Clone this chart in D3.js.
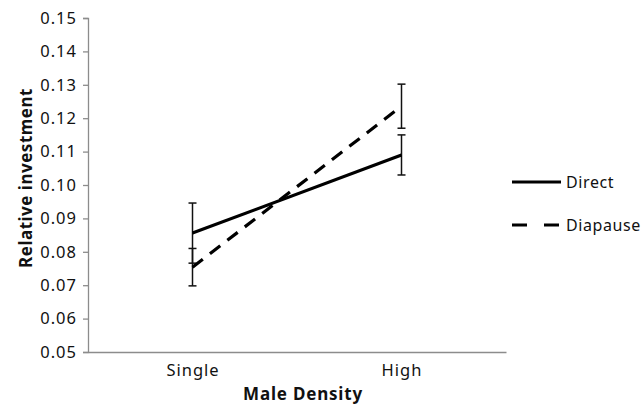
<!DOCTYPE html>
<html>
<head>
<meta charset="utf-8">
<script src="https://cdn.jsdelivr.net/npm/d3@7"></script>
<style>
  body { margin: 0; background: #fff; }
  text { font-family: "Noto Sans", sans-serif; fill: #111; }
</style>
</head>
<body>
<div class="canvas"></div>
<script>
// data
const categories = ['Single', 'High'];
const seriesNames = ['Direct', 'Diapause'];
const directMean = [0.0856, 0.1090];
const directErr = [0.0090, 0.0060];
const diapauseMean = [0.0754, 0.1236];
const diapauseErr = [0.0056, 0.0066];
const yTicks = [0.05, 0.06, 0.07, 0.08, 0.09, 0.10, 0.11, 0.12, 0.13, 0.14, 0.15];

const series = [
  {name: seriesNames[0], mean: directMean, err: directErr, dash: null},
  {name: seriesNames[1], mean: diapauseMean, err: diapauseErr, dash: '13,9'}
];

const svg = d3.select('.canvas')
  .append('svg')
  .attr('width', 644)
  .attr('height', 408);

// margins and dimensions
const margin = {top: 18, right: 138, bottom: 56, left: 88};
const graphWidth = 644 - margin.left - margin.right;
const graphHeight = 408 - margin.top - margin.bottom;

const graph = svg.append('g')
  .attr('transform', `translate(${margin.left},${margin.top})`);

const x = d3.scalePoint()
  .domain(categories)
  .range([0, graphWidth])
  .padding(0.5);

const y = d3.scaleLinear()
  .domain([0.05, 0.15])
  .range([graphHeight, 0]);

// axes
const yAxis = d3.axisLeft(y)
  .tickValues(yTicks)
  .tickFormat(d3.format('.2f'))
  .tickSize(5)
  .tickPadding(6);

const yAxisGroup = graph.append('g').call(yAxis);
yAxisGroup.select('.domain').attr('stroke', '#8c8c8c').attr('stroke-width', 1.3);
yAxisGroup.selectAll('.tick line').attr('stroke', '#8c8c8c').attr('stroke-width', 1.3);
yAxisGroup.selectAll('text')
  .attr('font-size', '16.5px')
  .attr('letter-spacing', '1px')
  .attr('font-family', '"Noto Sans", sans-serif')
  .attr('fill', '#111');

const xAxis = d3.axisBottom(x).tickSize(0).tickPadding(12);
const xAxisGroup = graph.append('g')
  .attr('transform', `translate(0, ${graphHeight})`)
  .call(xAxis);
xAxisGroup.select('.domain').attr('stroke', '#8c8c8c').attr('stroke-width', 1.3);
xAxisGroup.selectAll('text')
  .attr('font-size', '16.5px')
  .attr('letter-spacing', '1px')
  .attr('font-family', '"Noto Sans", sans-serif')
  .attr('fill', '#111');

// axis titles
svg.append('text')
  .attr('transform', 'translate(32, 178) rotate(-90)')
  .attr('text-anchor', 'middle')
  .attr('font-size', '17px')
  .attr('font-weight', 'bold')
  .attr('letter-spacing', '0.5px')
  .text('Relative investment');

svg.append('text')
  .attr('x', 303)
  .attr('y', 400)
  .attr('text-anchor', 'middle')
  .attr('font-size', '17px')
  .attr('font-weight', 'bold')
  .attr('letter-spacing', '0.8px')
  .text('Male Density');

// error bars
const capW = 4;
series.forEach(s => {
  const eb = graph.append('g').attr('stroke', '#111').attr('stroke-width', 1.5);
  categories.forEach((c, i) => {
    const cx = x(c);
    const lo = y(s.mean[i] - s.err[i]);
    const hi = y(s.mean[i] + s.err[i]);
    eb.append('line').attr('x1', cx).attr('x2', cx).attr('y1', lo).attr('y2', hi);
    eb.append('line').attr('x1', cx - capW).attr('x2', cx + capW).attr('y1', lo).attr('y2', lo);
    eb.append('line').attr('x1', cx - capW).attr('x2', cx + capW).attr('y1', hi).attr('y2', hi);
  });
});

// series lines
const line = d3.line()
  .x((d, i) => x(categories[i]))
  .y(d => y(d));

series.forEach(s => {
  graph.append('path')
    .datum(s.mean)
    .attr('d', line)
    .attr('fill', 'none')
    .attr('stroke', '#000')
    .attr('stroke-width', 3.2)
    .attr('stroke-dasharray', s.dash);
});

// legend
const legend = svg.append('g').attr('transform', 'translate(512, 182)');
series.forEach((s, i) => {
  const row = legend.append('g').attr('transform', `translate(0, ${i * 43})`);
  row.append('line')
    .attr('x1', 0).attr('x2', 49)
    .attr('y1', 0).attr('y2', 0)
    .attr('stroke', '#000')
    .attr('stroke-width', 3.2)
    .attr('stroke-dasharray', s.dash ? '15,17' : null);
  row.append('text')
    .attr('x', 54)
    .attr('y', 6)
    .attr('font-size', '16px')
    .attr('letter-spacing', '0.6px')
    .text(s.name);
});
</script>
</body>
</html>
